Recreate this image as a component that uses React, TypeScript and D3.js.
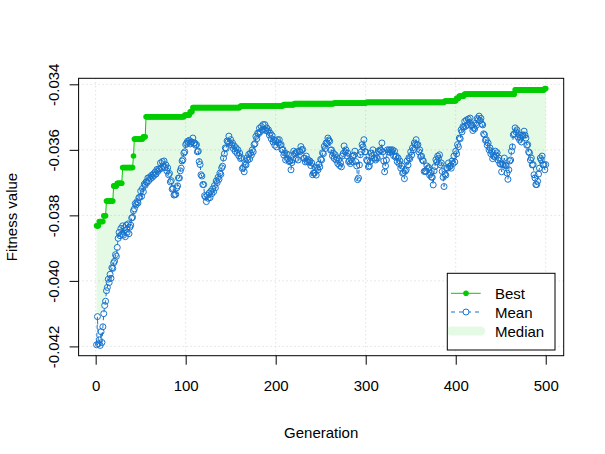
import React, { useRef, useEffect } from 'react';
import * as d3 from 'd3';

// generations 1..500
const GENERATIONS = d3.range(1, 501);

// best fitness: value holds from each start generation up to the next one
const BEST_START = [1, 4, 9, 12, 20, 24, 30, 42, 43, 53, 56, 99, 105, 108, 161, 209, 221, 265, 301, 388, 401, 404, 410, 466, 499];
const BEST_VALUE = [
  -0.03832, -0.03819, -0.03801, -0.03756, -0.0371, -0.03702, -0.03654, -0.03619, -0.03567, -0.0356,
  -0.03499, -0.03494, -0.03484, -0.03471, -0.03466, -0.03462, -0.03459, -0.03457, -0.03455, -0.03451,
  -0.03443, -0.03436, -0.0343, -0.03417, -0.03413,
];

// mean fitness per generation
const MEAN = [
  -0.04195, -0.04109, -0.04192, -0.0418, -0.04197, -0.04155, -0.04188, -0.0414, -0.041, -0.04075,
  -0.04062, -0.0403, -0.0402, -0.03995, -0.04005, -0.0398, -0.03992, -0.0396, -0.03962, -0.03945,
  -0.0394, -0.0392, -0.03925, -0.03898, -0.0387, -0.03852, -0.03862, -0.0384, -0.03858, -0.03832,
  -0.0386, -0.03838, -0.03865, -0.0383, -0.03852, -0.03826, -0.03856, -0.03836, -0.0383, -0.03808,
  -0.03806, -0.03786, -0.0378, -0.03764, -0.03768, -0.03758, -0.03762, -0.03746, -0.03745, -0.03726,
  -0.03742, -0.03718, -0.03728, -0.03705, -0.03708, -0.03698, -0.037, -0.03686, -0.03694, -0.03684,
  -0.03688, -0.03678, -0.03684, -0.03674, -0.03678, -0.03668, -0.03674, -0.0366, -0.03666, -0.03658,
  -0.0366, -0.0364, -0.03656, -0.03636, -0.0365, -0.03634, -0.03654, -0.03646, -0.03664, -0.03655,
  -0.03676, -0.03672, -0.03698, -0.03694, -0.0372, -0.03718, -0.03738, -0.03736, -0.03736, -0.03716,
  -0.0371, -0.03686, -0.03686, -0.03664, -0.03656, -0.03634, -0.0363, -0.0361, -0.03606, -0.03584,
  -0.0358, -0.03574, -0.03578, -0.03571, -0.03582, -0.03576, -0.03576, -0.03564, -0.0358, -0.03579,
  -0.03586, -0.03584, -0.03606, -0.03604, -0.03636, -0.03645, -0.03676, -0.0368, -0.03706, -0.03706,
  -0.0374, -0.03744, -0.03758, -0.03739, -0.03748, -0.03732, -0.03746, -0.03726, -0.03734, -0.03719,
  -0.03728, -0.03709, -0.03716, -0.03695, -0.037, -0.03684, -0.0369, -0.03671, -0.03675, -0.03655,
  -0.0365, -0.03625, -0.03612, -0.03594, -0.03596, -0.03573, -0.03576, -0.03558, -0.03578, -0.03569,
  -0.03585, -0.03579, -0.03596, -0.03588, -0.03604, -0.03594, -0.0361, -0.036, -0.03618, -0.0361,
  -0.03627, -0.03624, -0.03657, -0.03654, -0.03667, -0.03644, -0.03646, -0.03625, -0.03631, -0.03614,
  -0.03628, -0.0361, -0.03616, -0.036, -0.03606, -0.03584, -0.03581, -0.03559, -0.03566, -0.03549,
  -0.03551, -0.03534, -0.03545, -0.03529, -0.03539, -0.03523, -0.03538, -0.03523, -0.03541, -0.03533,
  -0.03543, -0.03539, -0.03555, -0.03549, -0.03566, -0.03556, -0.03576, -0.03569, -0.03586, -0.03573,
  -0.03591, -0.03569, -0.03578, -0.03569, -0.03586, -0.03584, -0.036, -0.03599, -0.03616, -0.0361,
  -0.03631, -0.03612, -0.03627, -0.03615, -0.03636, -0.03634, -0.03661, -0.03639, -0.03631, -0.03604,
  -0.03612, -0.03609, -0.03626, -0.03606, -0.03631, -0.03604, -0.03606, -0.0359, -0.036, -0.03599,
  -0.03626, -0.03625, -0.03637, -0.03619, -0.03636, -0.0363, -0.03638, -0.03634, -0.03648, -0.0364,
  -0.03676, -0.03671, -0.03671, -0.03654, -0.03677, -0.03656, -0.03661, -0.03644, -0.03652, -0.03629,
  -0.03631, -0.03609, -0.03612, -0.03589, -0.03596, -0.03579, -0.03581, -0.03564, -0.0357, -0.03574,
  -0.03601, -0.036, -0.03618, -0.0361, -0.03626, -0.03615, -0.03631, -0.03624, -0.03642, -0.0363,
  -0.03648, -0.0364, -0.03652, -0.03619, -0.03611, -0.03588, -0.03606, -0.036, -0.03618, -0.0361,
  -0.03636, -0.03634, -0.03642, -0.0363, -0.03636, -0.03619, -0.03616, -0.03604, -0.03636, -0.03649,
  -0.03691, -0.03686, -0.03646, -0.03615, -0.03606, -0.03584, -0.03591, -0.03569, -0.03606, -0.03606,
  -0.03631, -0.03634, -0.03652, -0.03649, -0.03636, -0.0361, -0.03618, -0.036, -0.03626, -0.03625,
  -0.03631, -0.03624, -0.03626, -0.03604, -0.03606, -0.036, -0.03602, -0.03579, -0.03606, -0.03634,
  -0.03667, -0.03649, -0.03631, -0.036, -0.03606, -0.036, -0.03608, -0.036, -0.03606, -0.036,
  -0.03618, -0.03604, -0.03622, -0.03619, -0.03636, -0.03625, -0.03642, -0.03634, -0.03656, -0.03649,
  -0.03671, -0.03669, -0.03688, -0.03665, -0.03661, -0.03634, -0.03646, -0.03624, -0.03627, -0.03606,
  -0.03616, -0.03594, -0.036, -0.03579, -0.03584, -0.03569, -0.03586, -0.03584, -0.03606, -0.036,
  -0.03621, -0.03619, -0.03631, -0.03634, -0.03666, -0.03665, -0.03666, -0.03649, -0.03657, -0.03654,
  -0.03677, -0.03671, -0.03683, -0.03684, -0.03707, -0.03664, -0.03651, -0.0363, -0.03637, -0.03619,
  -0.03626, -0.03615, -0.03646, -0.0364, -0.03666, -0.03684, -0.03712, -0.03674, -0.03677, -0.03655,
  -0.03656, -0.0364, -0.03652, -0.03649, -0.03656, -0.03634, -0.03642, -0.03619, -0.03637, -0.03604,
  -0.03612, -0.03584, -0.03591, -0.03564, -0.03566, -0.03539, -0.03545, -0.03529, -0.03531, -0.03513,
  -0.03528, -0.03509, -0.03524, -0.03506, -0.03516, -0.03503, -0.03526, -0.03524, -0.03541, -0.03533,
  -0.03536, -0.03519, -0.03525, -0.03504, -0.03508, -0.03497, -0.03511, -0.03504, -0.03521, -0.03524,
  -0.03551, -0.03554, -0.03571, -0.03569, -0.03586, -0.03579, -0.036, -0.03594, -0.03612, -0.03606,
  -0.03627, -0.03619, -0.03621, -0.03604, -0.03616, -0.03609, -0.03631, -0.03625, -0.03642, -0.03644,
  -0.03667, -0.03644, -0.03646, -0.03625, -0.03646, -0.03649, -0.03671, -0.0369, -0.03661, -0.03634,
  -0.03631, -0.03604, -0.03591, -0.03554, -0.03551, -0.03533, -0.03545, -0.03539, -0.03561, -0.03554,
  -0.0357, -0.03564, -0.03576, -0.03554, -0.03556, -0.03543, -0.03555, -0.03564, -0.03586, -0.03584,
  -0.03606, -0.03609, -0.03631, -0.03625, -0.03646, -0.03645, -0.03676, -0.03686, -0.03706, -0.03706,
  -0.03696, -0.03674, -0.03656, -0.03625, -0.03631, -0.03619, -0.03646, -0.03645, -0.03661, -0.03645,
];

// median fitness, read every 5 generations
const MEDIAN_GEN = [1, ...d3.range(5, 501, 5)];
const MEDIAN = [
  -0.04095, -0.0411, -0.0406, -0.03985, -0.0394, -0.0386, -0.0383, -0.03828, -0.03805, -0.03755,
  -0.03725, -0.03695, -0.03682, -0.03665, -0.03655, -0.03638, -0.03652, -0.03705, -0.03712, -0.0364,
  -0.0358, -0.03565, -0.03572, -0.0362, -0.037, -0.03735, -0.03715, -0.03688, -0.03652, -0.03582,
  -0.03566, -0.0359, -0.03608, -0.0364, -0.03612, -0.03592, -0.03547, -0.03525, -0.0353, -0.03552,
  -0.0357, -0.03572, -0.03608, -0.0362, -0.03602, -0.03605, -0.03595, -0.0362, -0.03636, -0.03655,
  -0.03628, -0.03582, -0.0357, -0.03612, -0.03628, -0.03597, -0.03607, -0.0362, -0.03615, -0.03592,
  -0.036, -0.0362, -0.0362, -0.03595, -0.0358, -0.03595, -0.03598, -0.0362, -0.03645, -0.03648,
  -0.03604, -0.0357, -0.03598, -0.0364, -0.03648, -0.0367, -0.03615, -0.03648, -0.0365, -0.0364,
  -0.03602, -0.0355, -0.03511, -0.03502, -0.03525, -0.03492, -0.0352, -0.03572, -0.03602, -0.03602,
  -0.03638, -0.0363, -0.0363, -0.03537, -0.0355, -0.03542, -0.0358, -0.0363, -0.0369, -0.03615,
  -0.0364,
];

const LEGEND = ['Best', 'Mean', 'Median'];

const W = 605;
const H = 454;
const PLOT = { left: 78.6, right: 563.7, top: 78.3, bottom: 355.7 };
const GREEN = '#00CD00';
const BLUE = '#1874CD';
const FILL = 'rgba(0,205,0,0.1)';
const FONT = '"Liberation Sans", Arial, Helvetica, sans-serif';

const bestAt = (g: number) => BEST_VALUE[d3.bisectRight(BEST_START, g) - 1];

const App: React.FC = () => {
  const xAxisRef = useRef<SVGGElement | null>(null);
  const yAxisRef = useRef<SVGGElement | null>(null);

  const best = GENERATIONS.map(bestAt);

  // R-style 4% padding on both scales
  const xPad = (500 - 1) * 0.04;
  const x = d3.scaleLinear().domain([1 - xPad, 500 + xPad]).range([PLOT.left, PLOT.right]);
  const [lo, hi] = d3.extent([...best, ...MEAN, ...MEDIAN]) as [number, number];
  const yPad = (hi - lo) * 0.04;
  const y = d3.scaleLinear().domain([lo - yPad, hi + yPad]).range([PLOT.bottom, PLOT.top]);

  const xTicks = x.ticks(5);
  const yTicks = y.ticks(5);
  const fmt = d3.formatLocale({ decimal: '.', thousands: ',', grouping: [3], currency: ['', ''], minus: '-' }).format('.3f');

  useEffect(() => {
    const xa = d3.select(xAxisRef.current);
    xa.selectAll('*').remove();
    xa.call(d3.axisBottom(x).tickValues(xTicks).tickSize(9).tickSizeOuter(0).tickFormat(d3.format('d')));
    xa.select('.domain').remove();
    xa.selectAll('text').attr('y', 35.8).attr('dy', 0).attr('fill', '#000')
      .style('font-family', FONT).style('font-size', '15px');

    const ya = d3.select(yAxisRef.current);
    ya.selectAll('*').remove();
    ya.call(d3.axisLeft(y).tickValues(yTicks).tickSize(9).tickSizeOuter(0).tickFormat((d) => fmt(d as number)));
    ya.select('.domain').remove();
    ya.selectAll('text').attr('x', 0).attr('y', -19.6).attr('dy', 0)
      .attr('transform', 'rotate(-90)').attr('text-anchor', 'middle').attr('fill', '#000')
      .style('font-family', FONT).style('font-size', '15px');
  }, []);

  const line = d3.line<[number, number]>().x((d) => x(d[0])).y((d) => y(d[1]));
  const bestPts: [number, number][] = GENERATIONS.map((g, i) => [g, best[i]]);
  const meanPts: [number, number][] = GENERATIONS.map((g, i) => [g, MEAN[i]]);
  const medianPts: [number, number][] = MEDIAN_GEN.map((g, i) => [g, MEDIAN[i]]);
  const band = line([...bestPts, ...medianPts.slice().reverse()]) + 'Z';

  const lg = { x: 447.3, y: 273.3, w: 107.7, h: 76.7 };
  const rowY = [293.3, 312, 331];

  return (
    <svg width={W} height={H} style={{ position: 'absolute', left: 0, top: 0, background: '#fff' }}>
      {/* grid */}
      <g stroke="#D3D3D3" strokeWidth={1} strokeDasharray="1 3">
        {xTicks.map((t) => (
          <line key={'gx' + t} x1={x(t)} x2={x(t)} y1={PLOT.top} y2={PLOT.bottom} />
        ))}
        {yTicks.map((t) => (
          <line key={'gy' + t} x1={PLOT.left} x2={PLOT.right} y1={y(t)} y2={y(t)} />
        ))}
      </g>

      {/* best-to-median band */}
      <path d={band} fill={FILL} stroke="none" />

      {/* best */}
      <path d={line(bestPts) || ''} fill="none" stroke={GREEN} strokeWidth={1} />
      {bestPts.map((d) => (
        <circle key={'b' + d[0]} cx={x(d[0])} cy={y(d[1])} r={2.8} fill={GREEN} />
      ))}

      {/* mean */}
      <path d={line(meanPts) || ''} fill="none" stroke={BLUE} strokeWidth={1} strokeDasharray="4 4" />
      {meanPts.map((d) => (
        <circle key={'m' + d[0]} cx={x(d[0])} cy={y(d[1])} r={3} fill="none" stroke={BLUE} strokeWidth={1} />
      ))}

      {/* frame */}
      <rect x={PLOT.left} y={PLOT.top} width={PLOT.right - PLOT.left} height={PLOT.bottom - PLOT.top}
        fill="none" stroke="#000" strokeWidth={1} />

      <g ref={xAxisRef} transform={`translate(0,${PLOT.bottom})`} />
      <g ref={yAxisRef} transform={`translate(${PLOT.left},0)`} />

      <text x={(PLOT.left + PLOT.right) / 2} y={438} textAnchor="middle" fontFamily={FONT} fontSize={15}>
        Generation
      </text>
      <text transform={`translate(16.7,${(PLOT.top + PLOT.bottom) / 2}) rotate(-90)`} textAnchor="middle"
        fontFamily={FONT} fontSize={15}>
        Fitness value
      </text>

      {/* legend */}
      <g>
        <rect x={lg.x} y={lg.y} width={lg.w} height={lg.h} fill="#fff" stroke="#000" strokeWidth={1} />
        <line x1={451} x2={480.7} y1={rowY[0]} y2={rowY[0]} stroke={GREEN} strokeWidth={1} />
        <circle cx={466} cy={rowY[0]} r={2.8} fill={GREEN} />
        <line x1={451} x2={480.7} y1={rowY[1]} y2={rowY[1]} stroke={BLUE} strokeWidth={1} strokeDasharray="4 4" />
        <circle cx={466} cy={rowY[1]} r={3} fill="#fff" stroke={BLUE} strokeWidth={1} />
        <line x1={451} x2={480.7} y1={rowY[2]} y2={rowY[2]} stroke={FILL} strokeWidth={9} strokeLinecap="round" />
        {LEGEND.map((s, i) => (
          <text key={s} x={495} y={rowY[i] + 5.5} fontFamily={FONT} fontSize={15}>
            {s}
          </text>
        ))}
      </g>
    </svg>
  );
};

export default App;
